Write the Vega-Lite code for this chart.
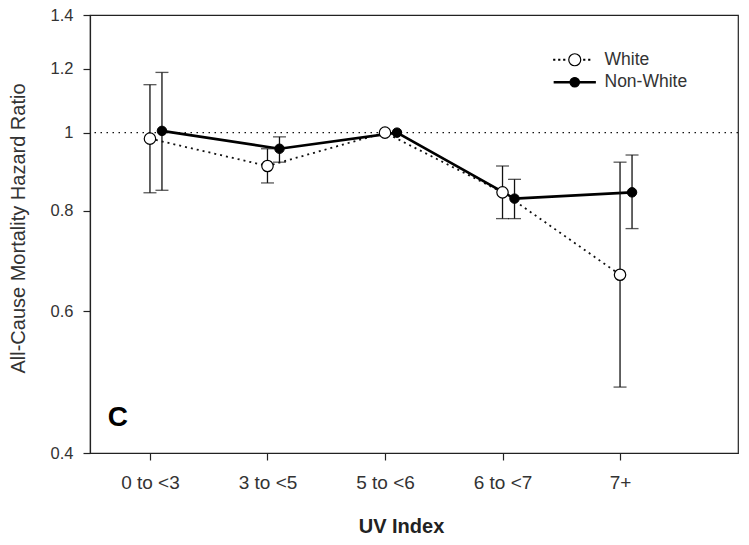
{
  "$schema": "https://vega.github.io/schema/vega-lite/v6.json",
  "width": 648,
  "height": 438,
  "autosize": {"type": "none"},
  "padding": {"left": 90, "top": 15, "right": 11, "bottom": 92},
  "background": "white",
  "config": {
    "font": "Liberation Sans",
    "view": {"stroke": "#222", "strokeWidth": 1.2},
    "axis": {
      "grid": false,
      "domainColor": "#222",
      "domainWidth": 1.2,
      "tickColor": "#222",
      "tickWidth": 1.2,
      "tickSize": 7,
      "labelColor": "#333",
      "labelFont": "Liberation Sans",
      "titleColor": "#222",
      "titleFont": "Liberation Sans"
    }
  },
  "data": {
    "values": [
      {"uv": "0 to <3", "group": "White", "hr": 0.983, "lo": 0.842, "hi": 1.147},
      {"uv": "3 to <5", "group": "White", "hr": 0.909, "lo": 0.866, "hi": 0.955},
      {"uv": "5 to <6", "group": "White", "hr": 1.0, "lo": null, "hi": null},
      {"uv": "6 to <7", "group": "White", "hr": 0.843, "lo": 0.782, "hi": 0.909},
      {"uv": "7+", "group": "White", "hr": 0.666, "lo": 0.483, "hi": 0.919},
      {"uv": "0 to <3", "group": "Non-White", "hr": 1.005, "lo": 0.848, "hi": 1.188},
      {"uv": "3 to <5", "group": "Non-White", "hr": 0.955, "lo": 0.919, "hi": 0.988},
      {"uv": "5 to <6", "group": "Non-White", "hr": 1.0, "lo": null, "hi": null},
      {"uv": "6 to <7", "group": "Non-White", "hr": 0.828, "lo": 0.782, "hi": 0.875},
      {"uv": "7+", "group": "Non-White", "hr": 0.843, "lo": 0.76, "hi": 0.938}
    ]
  },
  "layer": [
    {
      "transform": [{"filter": "datum.group === 'White'"}],
      "mark": {"type": "line", "strokeDash": [2, 4], "color": "#111", "strokeWidth": 1.8},
      "encoding": {
        "x": {
          "field": "uv",
          "type": "ordinal",
          "title": "UV Index",
          "sort": ["0 to <3", "3 to <5", "5 to <6", "6 to <7", "7+"],
          "scale": {"type": "point", "domain": ["0 to <3", "3 to <5", "5 to <6", "6 to <7", "7+"], "padding": 0.757, "align": 0.337},
          "axis": {
            "labelAngle": 0,
            "labelFontSize": 19,
            "labelPadding": 13,
            "titleFontSize": 20,
            "titleFontWeight": "bold",
            "titlePadding": 24,
            "titleX": 311
          }
        },
        "y": {
          "field": "hr",
          "type": "quantitative",
          "title": "All-Cause Mortality Hazard Ratio",
          "scale": {"type": "log", "domain": [0.4, 1.4], "nice": false, "zero": false},
          "axis": {
            "values": [0.4, 0.6, 0.8, 1, 1.2, 1.4],
            "format": "~g",
            "labelFontSize": 16.5,
            "labelPadding": 10,
            "titleFontSize": 20,
            "titleFontWeight": "normal",
            "titleColor": "#333",
            "titleX": -62,
            "titleY": 213
          }
        }
      }
    },
    {
      "data": {"values": [{"ref": 1}]},
      "mark": {"type": "rule", "strokeDash": [1.5, 4.5], "color": "#111", "strokeWidth": 1.4},
      "encoding": {
        "y": {"field": "ref", "type": "quantitative", "title": "All-Cause Mortality Hazard Ratio"}
      }
    },
    {
      "transform": [{"filter": "datum.group === 'Non-White'"}],
      "mark": {"type": "line", "color": "#000", "strokeWidth": 2.6, "xOffset": 12},
      "encoding": {
        "x": {"field": "uv", "type": "ordinal", "title": "UV Index"},
        "y": {"field": "hr", "type": "quantitative", "title": "All-Cause Mortality Hazard Ratio"}
      }
    },
    {
      "transform": [{"filter": "datum.group === 'White' && datum.lo != null"}],
      "mark": {"type": "rule", "color": "#111", "strokeWidth": 1.3},
      "encoding": {
        "x": {"field": "uv", "type": "ordinal", "title": "UV Index"},
        "y": {"field": "lo", "type": "quantitative", "title": "All-Cause Mortality Hazard Ratio"},
        "y2": {"field": "hi"}
      }
    },
    {
      "transform": [
        {"filter": "datum.group === 'White' && datum.lo != null"},
        {"fold": ["lo", "hi"], "as": ["bound", "val"]}
      ],
      "mark": {"type": "tick", "orient": "horizontal", "color": "#111", "size": 13, "thickness": 1.3},
      "encoding": {
        "x": {"field": "uv", "type": "ordinal", "title": "UV Index"},
        "y": {"field": "val", "type": "quantitative", "title": "All-Cause Mortality Hazard Ratio"}
      }
    },
    {
      "transform": [{"filter": "datum.group === 'Non-White' && datum.lo != null"}],
      "mark": {"type": "rule", "color": "#111", "strokeWidth": 1.3, "xOffset": 12},
      "encoding": {
        "x": {"field": "uv", "type": "ordinal", "title": "UV Index"},
        "y": {"field": "lo", "type": "quantitative", "title": "All-Cause Mortality Hazard Ratio"},
        "y2": {"field": "hi"}
      }
    },
    {
      "transform": [
        {"filter": "datum.group === 'Non-White' && datum.lo != null"},
        {"fold": ["lo", "hi"], "as": ["bound", "val"]}
      ],
      "mark": {"type": "tick", "orient": "horizontal", "color": "#111", "size": 13, "thickness": 1.3, "xOffset": 12},
      "encoding": {
        "x": {"field": "uv", "type": "ordinal", "title": "UV Index"},
        "y": {"field": "val", "type": "quantitative", "title": "All-Cause Mortality Hazard Ratio"}
      }
    },
    {
      "transform": [{"filter": "datum.group === 'White'"}],
      "mark": {"type": "point", "filled": true, "stroke": "#000", "strokeWidth": 1.2, "size": 130, "opacity": 1},
      "encoding": {
        "x": {"field": "uv", "type": "ordinal", "title": "UV Index"},
        "y": {"field": "hr", "type": "quantitative", "title": "All-Cause Mortality Hazard Ratio"},
        "fill": {
          "field": "group",
          "type": "nominal",
          "title": null,
          "scale": {"domain": ["White", "Non-White"], "range": ["#ffffff", "#000000"]}
        }
      }
    },
    {
      "transform": [{"filter": "datum.group === 'Non-White'"}],
      "mark": {"type": "point", "filled": true, "stroke": "#000", "strokeWidth": 1, "size": 90, "opacity": 1, "xOffset": 12},
      "encoding": {
        "x": {"field": "uv", "type": "ordinal", "title": "UV Index"},
        "y": {"field": "hr", "type": "quantitative", "title": "All-Cause Mortality Hazard Ratio"},
        "fill": {"field": "group", "type": "nominal", "title": null}
      }
    },
    {
      "transform": [{"filter": "false"}],
      "mark": {"type": "point", "filled": true, "stroke": "#000", "strokeWidth": 1.2, "size": 100, "opacity": 1},
      "encoding": {
        "x": {"field": "uv", "type": "ordinal", "title": "UV Index"},
        "y": {"field": "hr", "type": "quantitative", "title": "All-Cause Mortality Hazard Ratio"},
        "fill": {"field": "group", "type": "nominal", "title": null},
        "shape": {
          "field": "group",
          "type": "nominal",
          "title": null,
          "scale": {
            "domain": ["White", "Non-White"],
            "range": [
              "M-4.2,-0.1h0.2v0.2h-0.2Z M-3.2,-0.1h0.2v0.2h-0.2Z M-2.2,-0.1h0.2v0.2h-0.2Z M1.8,-0.1h0.2v0.2h-0.2Z M2.8,-0.1h0.2v0.2h-0.2Z M1.2,0A1.2,1.2 0 1 1 -1.2,0A1.2,1.2 0 1 1 1.2,0Z",
              "M-4.1,-0.15H-0.9V0.15H-4.1Z M0.9,-0.15H4.1V0.15H0.9Z M0.95,0A0.95,0.95 0 1 1 -0.95,0A0.95,0.95 0 1 1 0.95,0Z"
            ]
          },
          "legend": {
            "title": null,
            "orient": "none",
            "legendX": 476,
            "legendY": 36,
            "padding": 0,
            "labelFontSize": 17.5,
            "labelColor": "#333",
            "labelFont": "Liberation Sans",
            "labelOffset": 21,
            "rowPadding": 3.5,
            "symbolSize": 100,
            "symbolStrokeColor": "#000",
            "symbolStrokeWidth": 1.2,
            "symbolOpacity": 1
          }
        }
      }
    },
    {
      "data": {"values": [{"panel": "C", "uv": "0 to <3", "yv": 0.4427}]},
      "mark": {"type": "text", "fontSize": 28, "fontWeight": "bold", "font": "Liberation Sans", "color": "#000", "dx": -32, "baseline": "middle", "align": "center"},
      "encoding": {
        "x": {"field": "uv", "type": "ordinal", "title": "UV Index"},
        "y": {"field": "yv", "type": "quantitative", "title": "All-Cause Mortality Hazard Ratio"},
        "text": {"field": "panel"}
      }
    }
  ]
}
